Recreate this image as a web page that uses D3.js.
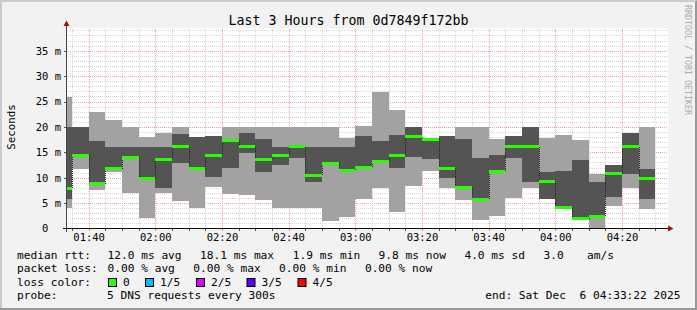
<!DOCTYPE html>
<html>
<head>
<meta charset="utf-8">
<script src="https://cdn.jsdelivr.net/npm/d3@7"></script>
<style>
  html, body { margin: 0; padding: 0; background: #f2f2f2; }
  svg { display: block; font-family: "DejaVu Sans Mono", monospace; }
</style>
</head>
<body>
<svg id="chart" width="697" height="310"></svg>
<script>
// --- data (5 pings per 5 min step, ms) ---
const slots   = ["01:30","01:35","01:40","01:45","01:50","01:55","02:00","02:05","02:10","02:15","02:20","02:25",
                 "02:30","02:35","02:40","02:45","02:50","02:55","03:00","03:05","03:10","03:15","03:20","03:25",
                 "03:30","03:35","03:40","03:45","03:50","03:55","04:00","04:05","04:10","04:15","04:20","04:25"];
const pingMin = [4.1,11.7,7.5,11.1,7.0,2.1,6.9,5.4,4.0,8.2,6.8,6.6, 5.6,4.1,4.1,4.1,1.5,2.3,5.9,8.0,3.3,8.4,11.3,8.0,
                 5.6,1.6,2.4,6.0,8.0,5.8,4.0,1.8,0.0,4.4,8.0,3.8];
const ping2   = [5.8,14.2,8.7,11.6,13.7,9.8,8.0,12.9,11.6,10.2,11.9,14.8, 11.2,12.5,13.9,9.2,12.6,11.3,12.0,13.0,11.9,14.1,13.7,9.9,
                 7.9,5.7,11.2,13.9,9.2,5.8,4.0,1.8,2.3,6.2,10.8,5.8];
const median  = [7.9,14.4,8.8,11.8,13.9,9.9,13.6,16.1,11.8,14.3,17.4,16.1, 13.6,14.3,16.1,10.5,12.8,11.5,12.1,13.2,14.4,18.1,17.6,11.9,
                 8.0,5.8,11.3,16.1,16.1,9.3,4.1,1.9,2.4,10.8,16.1,9.8];
const ping4   = [20.0,20.0,17.2,16.1,16.1,16.1,16.1,18.6,18.0,18.2,17.5,18.8, 17.6,16.1,16.2,16.1,16.1,16.1,18.2,17.2,18.4,20.0,17.8,18.2,
                 17.6,13.9,14.4,18.2,20.0,11.1,11.3,13.4,9.1,12.5,18.8,11.7];
const pingMax = [25.8,20.0,23.0,21.3,20.0,18.0,18.8,20.0,18.0,18.2,20.0,20.0, 20.0,20.0,20.0,20.0,20.0,17.8,20.2,26.9,23.3,20.0,17.8,18.2,
                 20.0,20.0,17.6,18.2,20.0,17.8,18.4,17.4,10.8,12.5,18.8,20.0];

const yTicks = [0, 5, 10, 15, 20, 25, 30, 35];
const lossLabels = ["0", "1/5", "2/5", "3/5", "4/5"];
const lossColors = ["#26ff00", "#00b8ff", "#dd00ff", "#5e00ff", "#ff0000"];
const titleText = "Last 3 Hours from 0d7849f172bb";

const day = (h, m, s) => new Date(2025, 11, 6, h, m, s || 0);
const parseSlot = s => { const p = s.split(":"); return day(+p[0], +p[1]); };
const tStart = day(1, 33, 22), tEnd = day(4, 33, 22);

const W = 697, H = 310;
const pLeft = 66.5, pRight = 666.5, pTop = 28.5, pBottom = 228.5;

const svg = d3.select("#chart");

// background with rrdtool style shading
svg.append("rect").attr("width", W).attr("height", H).attr("fill", "#f2f2f2");
svg.append("path").attr("d", `M0,0H${W}V2H2V${H}H0Z`).attr("fill", "#cbcbcb");
svg.append("path").attr("d", `M${W},0V${H}H0V${H - 2}H${W - 2}V2Z`).attr("fill", "#999");

const x = d3.scaleTime().domain([tStart, tEnd]).range([pLeft, pRight]);
const y = d3.scaleLinear().domain([0, 200 / 5.08]).range([pBottom, pTop]);

// canvas
svg.append("rect").attr("x", pLeft).attr("y", pTop).attr("width", pRight - pLeft + 1.5).attr("height", pBottom - pTop)
  .attr("fill", "#fff");

// grid
const grid = svg.append("g").attr("shape-rendering", "crispEdges");
const snap = v => Math.round(v) + 0.5;
d3.range(1, 40).filter(v => v % 5 !== 0).forEach(v => {
  grid.append("line").attr("x1", pLeft + 1).attr("x2", pRight + 1.5).attr("y1", snap(y(v))).attr("y2", snap(y(v)))
    .attr("stroke", "#d6d6d6").attr("stroke-dasharray", "1,1");
});
yTicks.filter(v => v > 0).forEach(v => {
  grid.append("line").attr("x1", pLeft + 1).attr("x2", pRight + 1.5).attr("y1", snap(y(v))).attr("y2", snap(y(v)))
    .attr("stroke", "#f0a0a0").attr("stroke-dasharray", "1,1");
  grid.append("line").attr("x1", pLeft - 3).attr("x2", pLeft).attr("y1", snap(y(v))).attr("y2", snap(y(v)))
    .attr("stroke", "#555");
});
const minorT = d3.timeMinute.every(5).range(tStart, tEnd);
minorT.forEach(t => {
  const major = t.getMinutes() % 20 === 0;
  grid.append("line").attr("x1", snap(x(t))).attr("x2", snap(x(t))).attr("y1", pTop).attr("y2", pBottom)
    .attr("stroke", major ? "#f0a0a0" : "#d6d6d6").attr("stroke-dasharray", "1,1");
  grid.append("line").attr("x1", snap(x(t))).attr("x2", snap(x(t))).attr("y1", pBottom).attr("y2", pBottom + 2.5)
    .attr("stroke", major ? "#e07070" : "#555");
});

// smoke
const bars = slots.map((s, i) => {
  const t0 = parseSlot(s);
  const t1 = d3.timeMinute.offset(t0, 5);
  return {
    x0: Math.max(x(t0), x(tStart)), x1: Math.min(x(t1), x(tEnd)),
    lo: pingMin[i], p2: ping2[i], med: median[i], p4: ping4[i], hi: pingMax[i]
  };
});
const plot = svg.append("g").attr("shape-rendering", "crispEdges");
plot.selectAll("rect.outer").data(bars).join("rect").attr("class", "outer")
  .attr("x", d => d.x0).attr("width", d => d.x1 - d.x0)
  .attr("y", d => y(d.hi)).attr("height", d => y(d.lo) - y(d.hi))
  .attr("fill", "#a2a2a2");
plot.selectAll("rect.inner").data(bars).join("rect").attr("class", "inner")
  .attr("x", d => d.x0).attr("width", d => d.x1 - d.x0)
  .attr("y", d => y(d.p4)).attr("height", d => y(d.p2) - y(d.p4))
  .attr("fill", "#545454");

// median step connectors (dotted)
bars.slice(0, -1).forEach((d, i) => {
  const n = bars[i + 1];
  plot.append("line").attr("x1", Math.round(d.x1) + 0.5).attr("x2", Math.round(d.x1) + 0.5)
    .attr("y1", y(d.med)).attr("y2", y(n.med))
    .attr("stroke", "#202020").attr("stroke-dasharray", "1,1");
});
plot.selectAll("rect.med").data(bars).join("rect").attr("class", "med")
  .attr("x", d => d.x0).attr("width", d => d.x1 - d.x0)
  .attr("y", d => y(d.med) - 1.5).attr("height", 3)
  .attr("fill", lossColors[0]);

// axes lines + arrows
svg.append("line").attr("x1", 63).attr("x2", 669).attr("y1", pBottom).attr("y2", pBottom)
  .attr("stroke", "#111").attr("shape-rendering", "crispEdges");
svg.append("line").attr("x1", pLeft).attr("x2", pLeft).attr("y1", 232).attr("y2", 24)
  .attr("stroke", "#444").attr("shape-rendering", "crispEdges");
svg.append("path").attr("d", `M668,${pBottom - 3}L673.5,${pBottom}L668,${pBottom + 3}Z`).attr("fill", "#a01010");
svg.append("path").attr("d", `M${pLeft - 3},26L${pLeft},20.5L${pLeft + 3},26Z`).attr("fill", "#a01010");

// tick labels via d3 axes
const xAxis = svg.append("g").attr("transform", `translate(0,${pBottom})`)
  .call(d3.axisBottom(x).ticks(d3.timeMinute.every(20)).tickFormat(d3.timeFormat("%H:%M")).tickSize(0).tickPadding(5));
xAxis.select(".domain").remove();
xAxis.attr("font-family", "DejaVu Sans Mono").attr("font-size", 10.5);

const yAxis = svg.append("g").attr("transform", `translate(${pLeft},0)`)
  .call(d3.axisLeft(y).tickValues(yTicks).tickFormat(d => d === 0 ? "0\u00a0\u00a0" : d + " m").tickSize(0).tickPadding(5.5));
yAxis.select(".domain").remove();
yAxis.attr("font-family", "DejaVu Sans Mono").attr("font-size", 10.5);

// titles
svg.append("text").attr("x", 348.5).attr("y", 24.5).attr("text-anchor", "middle")
  .attr("font-size", 13.3).text(titleText);
svg.append("text").attr("transform", "translate(14.5,127) rotate(-90)").attr("text-anchor", "middle")
  .attr("font-size", 10.8).text("Seconds");
svg.append("text").attr("transform", "translate(684.5,5) rotate(90)")
  .attr("font-size", 8.3).attr("fill", "#aaa").text("RRDTOOL / TOBI OETIKER");

// legend
const leg = svg.append("g").attr("font-size", 11.2).attr("fill", "#000");
const put = (tx, xx, yy, anchor) => leg.append("text").attr("x", xx).attr("y", yy)
  .attr("text-anchor", anchor || "start").text(tx);
const rows = [259, 272.4, 285.8, 299.2];
put("median rtt:", 17, rows[0]);
put("12.0 ms avg", 107.5, rows[0]);
put("18.1 ms max", 200, rows[0]);
put("1.9 ms min", 292.8, rows[0]);
put("9.8 ms now", 378.6, rows[0]);
put("4.0 ms sd", 464.4, rows[0]);
put("3.0", 543.6, rows[0]);
put("am/s", 587, rows[0]);
put("packet loss:", 17, rows[1]);
put("0.00 % avg", 107.5, rows[1]);
put("0.00 % max", 193.3, rows[1]);
put("0.00 % min", 279.1, rows[1]);
put("0.00 % now", 364.9, rows[1]);
put("loss color:", 17, rows[2]);
const boxX = [108.5, 145.5, 196.5, 247, 298];
lossLabels.forEach((l, i) => {
  leg.append("rect").attr("x", boxX[i]).attr("y", 278.5).attr("width", 8).attr("height", 8)
    .attr("fill", lossColors[i]).attr("stroke", "#000");
  put(l, boxX[i] + 14.5, rows[2]);
});
put("probe:", 17, rows[3]);
put("5 DNS requests every 300s", 107, rows[3]);
put("end: Sat Dec\u00a0\u00a06 04:33:22 2025", 680.5, rows[3], "end");
</script>
</body>
</html>
